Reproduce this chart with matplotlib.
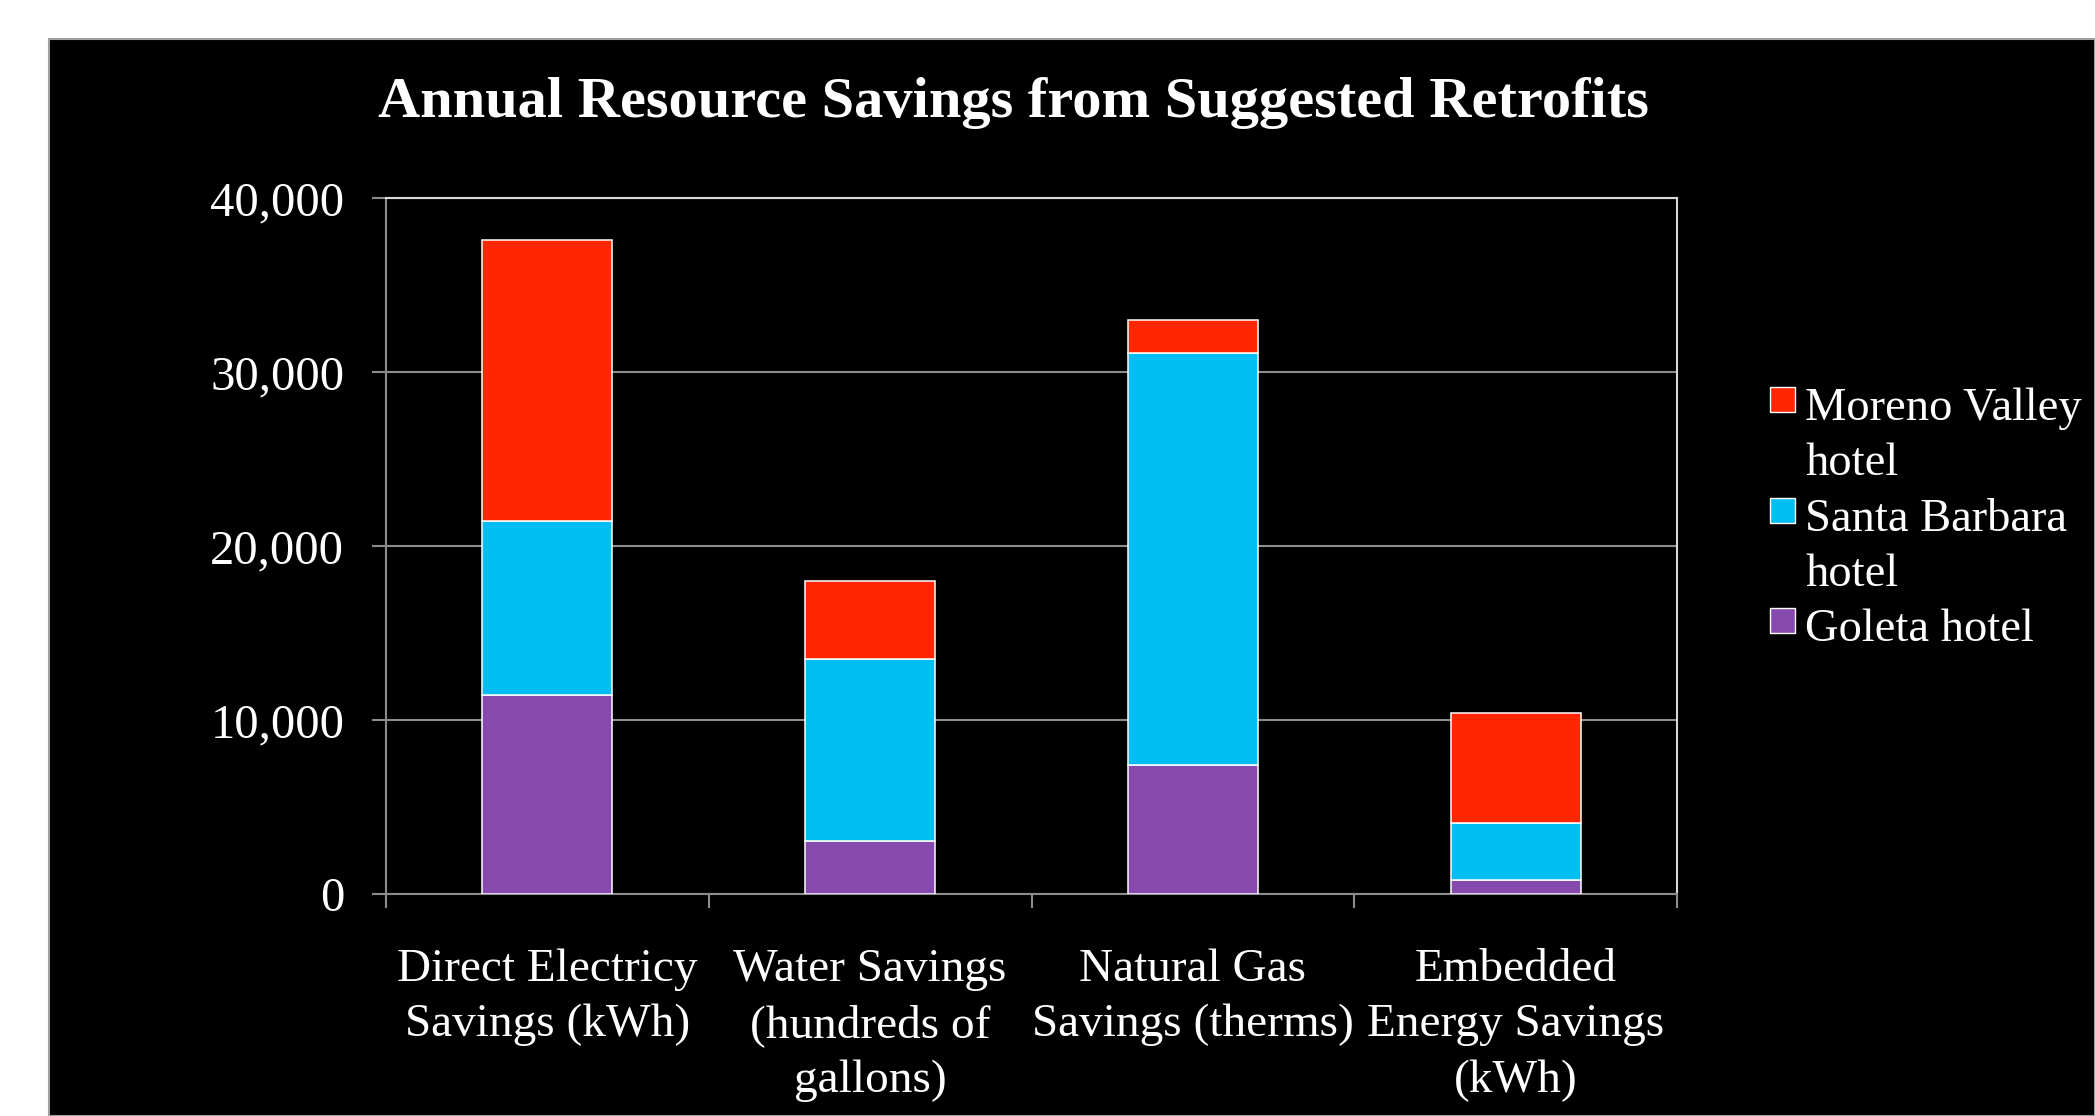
import matplotlib
matplotlib.use("Agg")
import matplotlib.pyplot as plt
from matplotlib.patches import Rectangle
import numpy as np

# chart data
categories = ["Direct Electricy\nSavings (kWh)", "Water Savings\n(hundreds of\ngallons)",
              "Natural Gas\nSavings (therms)", "Embedded\nEnergy Savings\n(kWh)"]
goleta = [11450, 3050, 7400, 800]
santa_barbara = [10000, 10450, 23700, 3300]
moreno_valley = [16150, 4500, 1900, 6300]
series_names = ["Moreno Valley\nhotel", "Santa Barbara\nhotel", "Goleta hotel"]
yticks = [0, 10000, 20000, 30000, 40000]
ytick_labels = ["0", "10,000", "20,000", "30,000", "40,000"]

RED = "#ff2600"
CYAN = "#00bdf2"
PURPLE = "#8649ad"

W, H = 2095, 1116
plt.rcParams["font.family"] = ["Liberation Serif", "DejaVu Serif"]

fig = plt.figure(figsize=(W / 100, H / 100), dpi=100, facecolor="white")


def fx(px):
    return px / W


def fy(py):
    return 1 - py / H


# black slide panel
fig.add_artist(Rectangle((fx(49), 0), 1 - fx(49), fy(39), transform=fig.transFigure,
                         facecolor="black", edgecolor="#a0a0a0", linewidth=1.5, zorder=0))

ax = fig.add_axes([fx(386), fy(894), fx(1677) - fx(386), fy(198) - fy(894)])
ax.set_facecolor("black")

x = np.arange(len(categories))
bw = 0.403
ax.bar(x, goleta, bw, color=PURPLE, edgecolor="white", linewidth=1.1, zorder=3)
ax.bar(x, santa_barbara, bw, bottom=goleta, color=CYAN, edgecolor="white", linewidth=1.1, zorder=3)
bottom2 = np.array(goleta) + np.array(santa_barbara)
ax.bar(x, moreno_valley, bw, bottom=bottom2, color=RED, edgecolor="white", linewidth=1.1, zorder=3)

ax.set_xlim(-0.5, len(categories) - 0.5)
ax.set_ylim(0, 40000)
ax.set_yticks(yticks)
ax.set_yticklabels(ytick_labels)
ax.yaxis.grid(True, color="#8c8c8c", linewidth=1.5, zorder=0)
ax.set_axisbelow(True)

ax.set_xticks(np.arange(len(categories) + 1) - 0.5)
ax.set_xticklabels([])
ax.set_xticks(x, minor=True)
ax.set_xticklabels(categories, minor=True, linespacing=1.4)

ax.tick_params(axis="y", colors="#8c8c8c", labelcolor="white", labelsize=35,
               length=10, width=1.5, pad=20)
ax.tick_params(axis="x", which="major", colors="#8c8c8c", length=10, width=1.5, direction="out")
ax.tick_params(axis="x", which="minor", length=0, labelcolor="white", labelsize=34, pad=39)

for s in ["left", "bottom"]:
    ax.spines[s].set_color("#8c8c8c")
    ax.spines[s].set_linewidth(1.5)
for s in ["top", "right"]:
    ax.spines[s].set_color("#d9d9d9")
    ax.spines[s].set_linewidth(1.5)

fig.text(fx(1013), fy(117), "Annual Resource Savings from Suggested Retrofits",
         ha="center", va="baseline", color="white", fontsize=42, fontweight="bold")

# legend, laid out like the slide (marker next to the first line)
leg_colors = [RED, CYAN, PURPLE]
leg_tops = [387, 498, 608]
for name, col, top in zip(series_names, leg_colors, leg_tops):
    fig.add_artist(Rectangle((fx(1770), fy(top + 25)), fx(25), fy(0) - fy(25), transform=fig.transFigure,
                             facecolor=col, edgecolor="white", linewidth=1.0))
    for i, line in enumerate(name.split("\n")):
        fig.text(fx(1805), fy(top + 33 + 55 * i), line, ha="left", va="baseline",
                 color="white", fontsize=33.5)

fig.savefig("out.png", dpi=100, facecolor="white")
